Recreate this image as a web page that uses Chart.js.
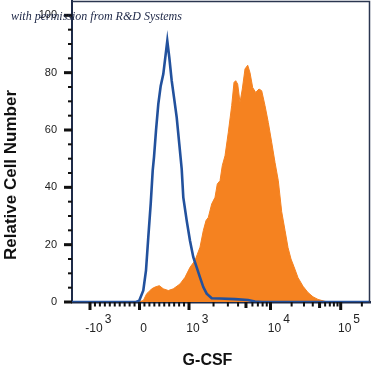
<!DOCTYPE html>
<html>
<head>
<meta charset="utf-8">
<script src="https://cdn.jsdelivr.net/npm/chart.js@4.4.1/dist/chart.umd.min.js"></script>
<style>
html,body{margin:0;padding:0;background:#fff;}
canvas{display:block;}
</style>
</head>
<body>
<canvas id="c" width="372" height="373"></canvas>
<script>
// ---- data (x = display channel on the biexponential axis, y = relative cell number) ----
const isotypeX = [0, 64, 66, 67.3, 71.3, 74, 76.3, 78.7, 80.7, 82, 84, 86.3, 88.7, 91.3, 95.3, 97.3, 99.7, 102, 104.7, 107.3, 109.7, 111.3, 114.7, 118, 121.3, 124.7, 128, 131.3, 134.7, 139.7, 148, 163, 176, 183, 190, 298];
const isotypeY = [0, 0, 0.3, 0.5, 4.0, 11.0, 22.6, 34.2, 45.8, 50.5, 59.8, 69.0, 75.4, 79.5, 91.1, 85.3, 77.2, 71.4, 64.4, 55.1, 46.4, 36.5, 28.4, 21.4, 15.6, 12.1, 8.6, 5.2, 2.9, 1.3, 1.2, 1.0, 0.7, 0.2, 0, 0];

const stainedX = [0, 66, 71.3, 74.7, 76.3, 79.7, 83, 87.3, 91.3, 96.3, 101.3, 108, 113, 118, 123, 128, 131.3, 134, 136.3, 139.7, 143, 145.3, 148, 150.3, 153, 156.3, 159.7, 162, 163.7, 165.7, 168, 170.3, 173, 175.7, 178, 180.7, 183.7, 187, 189.7, 193, 196.3, 199.7, 203, 206.3, 209.7, 213, 216, 219, 222, 226, 231, 236, 241, 246, 251, 256, 298];
const stainedY = [0, 0, 0.5, 2.9, 3.4, 4.6, 5.2, 5.7, 4.6, 4.0, 4.6, 6.3, 8.6, 12.1, 14.5, 19.1, 24.9, 28.4, 29.5, 34.2, 36.5, 41.2, 42.3, 47.6, 51.0, 59.2, 68.5, 76.6, 77.2, 76.0, 69.6, 74.3, 81.3, 82.6, 80.0, 74.8, 73.1, 74.3, 73.7, 68.5, 62.6, 55.7, 48.7, 42.3, 31.5, 25.0, 19.0, 15.0, 12.3, 8.5, 5.5, 3.3, 1.8, 0.9, 0.4, 0, 0];

// ---- axes ----
const yTickValues = [0, 20, 40, 60, 80, 100];
const yMinorValues = [5, 10, 15, 25, 30, 35, 45, 50, 55, 65, 70, 75, 85, 90, 95];

// biexponential axis: intensity anchors and their display channel
const xAnchorValues = [-1000, 0, 1000, 10000, 100000, 1000000];
const xAnchorChannels = [18, 67.5, 117, 198.5, 268.7, 339];

const xTickValues = [-1000, 0, 1000, 10000, 100000];
const xTickBase = ['-10', '0', '10', '10', '10'];
const xTickExp = ['3', '', '3', '4', '5'];
const xMidValues = [5000, 50000];
const xMinorValues = [-900, -800, -700, -600, -500, -400, -300, -200, -100, 100, 200, 300, 400, 500, 600, 700, 800, 900,
  2000, 3000, 4000, 6000, 7000, 8000, 9000, 20000, 30000, 40000, 60000, 70000, 80000, 90000, 200000];

function toChannel(v) {
  for (let k = 0; k < xAnchorValues.length - 1; k++) {
    const a = xAnchorValues[k], b = xAnchorValues[k + 1];
    if (v >= a && v <= b) {
      const ca = xAnchorChannels[k], cb = xAnchorChannels[k + 1];
      let t;
      if (a >= 1000) t = (Math.log10(v) - Math.log10(a)) / (Math.log10(b) - Math.log10(a));
      else t = (v - a) / (b - a);
      return ca + t * (cb - ca);
    }
  }
  return NaN;
}

const FONT = '"Liberation Sans", Arial, sans-serif';

const decor = {
  id: 'decor',
  afterDraw(chart) {
    const { ctx, chartArea: a, scales: { x, y } } = chart;
    ctx.save();
    // frame top / right
    ctx.strokeStyle = '#2b3650';
    ctx.lineWidth = 1.5;
    ctx.beginPath();
    ctx.moveTo(a.left, a.top + 0.5);
    ctx.lineTo(a.right - 0.5, a.top + 0.5);
    ctx.lineTo(a.right - 0.5, a.bottom);
    ctx.stroke();

    ctx.fillStyle = '#111';
    // y ticks
    yTickValues.forEach(v => {
      const py = y.getPixelForValue(v);
      ctx.fillRect(a.left - 8, py - 1.5, 8, 3);
    });
    yMinorValues.forEach(v => {
      const py = y.getPixelForValue(v);
      ctx.fillRect(a.left - 4, py - 1, 4, 2);
    });
    // x ticks
    const bottom = a.bottom;
    xTickValues.forEach(v => {
      const px = x.getPixelForValue(toChannel(v));
      ctx.fillRect(px - 1.5, bottom, 3, 8);
    });
    xMidValues.forEach(v => {
      const px = x.getPixelForValue(toChannel(v));
      ctx.fillRect(px - 1.5, bottom, 3, 6);
    });
    xMinorValues.forEach(v => {
      const px = x.getPixelForValue(toChannel(v));
      ctx.fillRect(px - 1, bottom, 2, 4.5);
    });

    // x tick labels with exponents
    ctx.fillStyle = '#222';
    ctx.font = '12px ' + FONT;
    ctx.textBaseline = 'alphabetic';
    xTickValues.forEach((v, i) => {
      const px = x.getPixelForValue(toChannel(v));
      const cx = px + 4;
      ctx.textAlign = 'center';
      ctx.fillText(xTickBase[i], cx, bottom + 30);
      if (xTickExp[i]) {
        const w = ctx.measureText(xTickBase[i]).width;
        ctx.textAlign = 'left';
        ctx.fillText(xTickExp[i], cx + w / 2 + 2, bottom + 21);
      }
    });

    // axis titles
    ctx.fillStyle = '#111';
    ctx.textAlign = 'center';
    ctx.textBaseline = 'middle';
    ctx.font = 'bold 16px ' + FONT;
    ctx.fillText('G-CSF', 207.5, 361);
    ctx.save();
    ctx.translate(11, 175);
    ctx.rotate(-Math.PI / 2);
    ctx.font = 'bold 17px ' + FONT;
    ctx.fillText('Relative Cell Number', 0, 0);
    ctx.restore();

    // watermark
    ctx.fillStyle = '#1b2545';
    ctx.textAlign = 'left';
    ctx.textBaseline = 'alphabetic';
    ctx.font = 'italic 12px "Liberation Serif", "DejaVu Serif", serif';
    ctx.fillText('with permission from R&D Systems', 11, 20);
    ctx.restore();
  }
};

new Chart(document.getElementById('c'), {
  type: 'line',
  data: {
    datasets: [
      {
        label: 'Isotype control',
        data: isotypeX.map((v, i) => ({ x: v, y: isotypeY[i] })),
        borderColor: '#22519d',
        borderWidth: 2.6,
        pointRadius: 0,
        fill: false,
        tension: 0,
        order: 0
      },
      {
        label: 'G-CSF',
        data: stainedX.map((v, i) => ({ x: v, y: stainedY[i] })),
        borderColor: '#f58220',
        backgroundColor: '#f58220',
        borderWidth: 1,
        pointRadius: 0,
        fill: 'origin',
        tension: 0,
        order: 1
      }
    ]
  },
  options: {
    responsive: false,
    animation: false,
    devicePixelRatio: 1,
    layout: { autoPadding: false, padding: { top: 1, right: 2, left: 0, bottom: 0 } },
    plugins: { legend: { display: false }, tooltip: { enabled: false }, title: { display: false } },
    scales: {
      x: {
        type: 'linear',
        min: 0,
        max: 298,
        grid: { display: false },
        ticks: { display: false },
        border: { display: true, color: '#1e2b48', width: 2.5 },
        afterFit: s => { s.height = 71; s.paddingLeft = 0; s.paddingRight = 0; }
      },
      y: {
        type: 'linear',
        min: 0,
        max: 105,
        grid: { display: false, drawTicks: false },
        border: { display: true, color: '#1e2b48', width: 2 },
        afterBuildTicks: s => { s.ticks = yTickValues.map(v => ({ value: v })); },
        ticks: {
          padding: 15,
          color: '#222',
          font: { family: FONT, size: 11 },
          callback: v => String(v)
        },
        afterFit: s => { s.width = 72; s.paddingTop = 0; s.paddingBottom = 0; }
      }
    }
  },
  plugins: [decor]
});
</script>
</body>
</html>
